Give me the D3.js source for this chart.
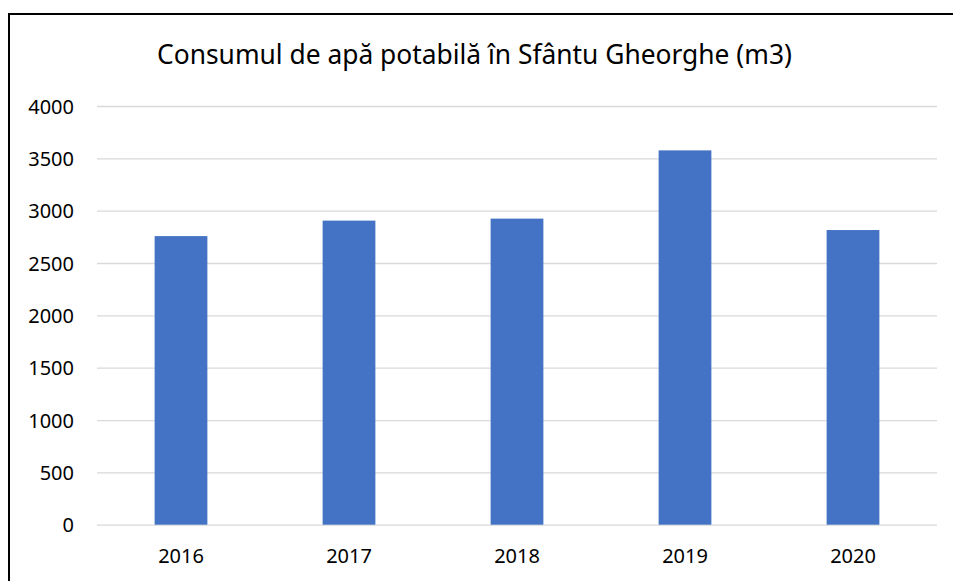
<!DOCTYPE html>
<html>
<head>
<meta charset="utf-8">
<script src="https://cdn.jsdelivr.net/npm/d3@7"></script>
<style>
  html, body { margin: 0; padding: 0; background: #fff; }
  svg { display: block; }
  svg text { font-family: "Noto Sans", "Open Sans", sans-serif; }
</style>
</head>
<body>
<div id="chart"></div>
<script>
// data
var years = ['2016', '2017', '2018', '2019', '2020'];
var consum = [2757, 2905, 2924, 3576, 2815];
var yTicks = [0, 500, 1000, 1500, 2000, 2500, 3000, 3500, 4000];
var title = 'Consumul de apă potabilă în Sfântu Gheorghe (m3)';

var W = 953, H = 581;
var margin = {left: 97, right: 16, top: 106, bottom: 56.3};
var width = W - margin.left - margin.right;   // 840
var height = H - margin.top - margin.bottom;  // ~418.7

var svg = d3.select('#chart').append('svg')
  .attr('width', W)
  .attr('height', H);

// chart border (cut off on the right and bottom like the source)
svg.append('rect')
  .attr('x', 9).attr('y', 14)
  .attr('width', 1000).attr('height', 1000)
  .attr('fill', 'none')
  .attr('stroke', '#000')
  .attr('stroke-width', 2);

// title, sized to the width it has in the source
var t = svg.append('text')
  .attr('x', 474.5).attr('y', 64)
  .attr('text-anchor', 'middle')
  .attr('fill', '#000')
  .style('font-size', '29px')
  .text(title);
var tw = t.node().getComputedTextLength();
t.style('font-size', (29 * 635 / tw) + 'px');

var xScale = d3.scaleBand()
  .domain(years)
  .range([0, width])
  .paddingInner(0.686)
  .paddingOuter(0.343);

var yScale = d3.scaleLinear()
  .domain([0, 4000])
  .range([height, 0]);

var g = svg.append('g')
  .attr('transform', 'translate(' + margin.left + ',' + margin.top + ')');

// y gridlines + labels
var yAxis = g.append('g')
  .call(d3.axisLeft(yScale).tickValues(yTicks).tickFormat(d3.format('d'))
    .tickSize(-width).tickPadding(23));
yAxis.select('.domain').remove();
yAxis.selectAll('line').attr('stroke', '#d9d9d9').attr('stroke-width', 1.3);
yAxis.selectAll('text')
  .attr('fill', '#000')
  .attr('dy', '0.36em')
  .style('font-size', '20px');

// bars
g.selectAll('.bar')
  .data(consum)
  .enter()
  .append('rect')
  .attr('class', 'bar')
  .attr('x', function (d, i) { return xScale(years[i]); })
  .attr('y', function (d) { return yScale(d); })
  .attr('width', xScale.bandwidth())
  .attr('height', function (d) { return height - yScale(d); })
  .attr('fill', '#4472c4');

// x labels
var xAxis = g.append('g')
  .attr('transform', 'translate(0,' + height + ')')
  .call(d3.axisBottom(xScale).tickSize(0));
xAxis.select('.domain').remove();
xAxis.selectAll('text')
  .attr('fill', '#000')
  .attr('y', 38.3)
  .attr('dy', 0)
  .style('font-size', '20px');
</script>
</body>
</html>
